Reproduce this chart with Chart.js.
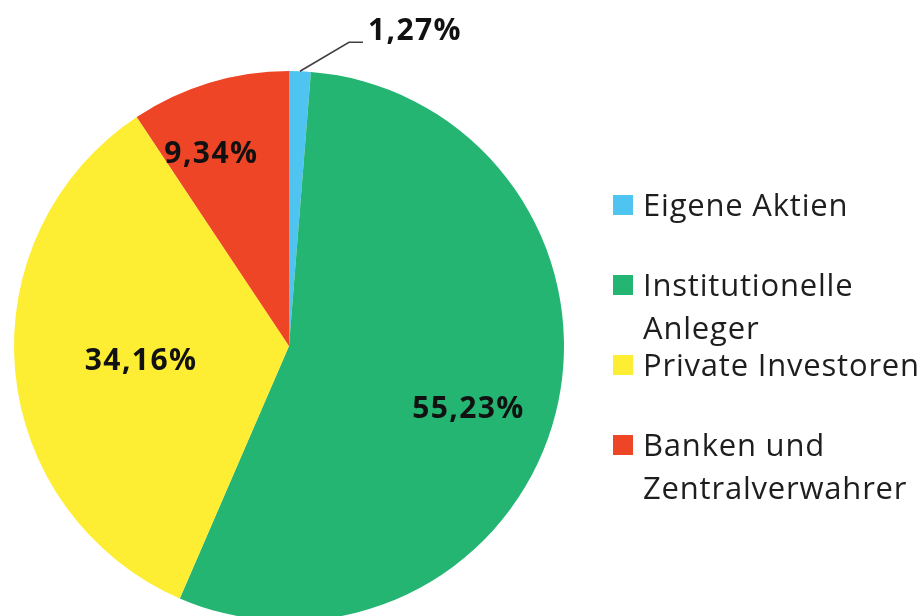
<!DOCTYPE html>
<html>
<head>
<meta charset="utf-8">
<script src="https://cdn.jsdelivr.net/npm/chart.js@4/dist/chart.umd.min.js"></script>
<style>
  html, body { margin: 0; padding: 0; background: #fff; overflow: hidden; width: 923px; height: 616px; }
  #wrap { position: absolute; left: 0; top: 0; width: 923px; height: 640px; }
  #legend { position: absolute; left: 613px; top: 0; width: 310px; font-family: "Open Sans", sans-serif; font-size: 31px; letter-spacing: 0.8px; color: #1e1e1e; }
  .item { position: absolute; left: 0; line-height: 43px; }
  .box { position: absolute; left: 0; top: 12px; width: 20px; height: 20px; }
  .txt { position: absolute; left: 30px; top: 0; white-space: nowrap; }
</style>
</head>
<body>
<div id="wrap"><canvas id="c"></canvas></div>
<div id="legend"></div>
<script>
// ---- data ----
const categories = ["Eigene Aktien", "Institutionelle Anleger", "Private Investoren", "Banken und Zentralverwahrer"];
const legendLines = [["Eigene Aktien"], ["Institutionelle", "Anleger"], ["Private Investoren"], ["Banken und", "Zentralverwahrer"]];
const shares = [1.27, 55.23, 34.16, 9.34];
const shareLabels = ["1,27%", "55,23%", "34,16%", "9,34%"];
const colors = ["#4fc4f0", "#24b573", "#fded33", "#ee4527"];

// label placement (fraction of radius; null = outside with leader) and angular nudge in degrees
const labelRadius = [null, 0.69, 0.54, 0.76];
const labelNudge = [0, 5, 0, -5];

const labelPlugin = {
  id: 'pctLabels',
  afterDatasetsDraw(chart) {
    const ctx = chart.ctx;
    const meta = chart.getDatasetMeta(0);
    ctx.save();
    const fs = 30;
    ctx.font = 'bold ' + fs + 'px "Open Sans", sans-serif';
    if ('letterSpacing' in ctx) ctx.letterSpacing = '1.4px';
    ctx.fillStyle = '#111';
    meta.data.forEach((arc, i) => {
      const p = arc.getProps(['x', 'y', 'startAngle', 'endAngle', 'outerRadius'], true);
      const mid = (p.startAngle + p.endAngle) / 2 + labelNudge[i] * Math.PI / 180;
      if (labelRadius[i] === null) {
        const ex = p.x + Math.cos(mid) * p.outerRadius;
        const ey = p.y + Math.sin(mid) * p.outerRadius;
        const kx = ex + 49, ky = ey - 29;
        ctx.strokeStyle = '#404040';
        ctx.lineWidth = 1.6;
        ctx.beginPath();
        ctx.moveTo(ex, ey);
        ctx.lineTo(kx, ky);
        ctx.lineTo(kx + 14, ky);
        ctx.stroke();
        ctx.textAlign = 'left';
        ctx.textBaseline = 'alphabetic';
        ctx.fillText(shareLabels[i], kx + 19, ky - 13 + 0.357 * fs);
      } else {
        const r = p.outerRadius * labelRadius[i];
        const cx = p.x + Math.cos(mid) * r;
        const cy = p.y + Math.sin(mid) * r;
        ctx.textAlign = 'center';
        ctx.textBaseline = 'alphabetic';
        ctx.fillText(shareLabels[i], cx, cy + 0.357 * fs);
      }
    });
    ctx.restore();
  }
};

new Chart(document.getElementById('c'), {
  type: 'pie',
  data: {
    labels: categories,
    datasets: [{ data: shares, backgroundColor: colors, borderWidth: 0, hoverOffset: 0 }]
  },
  options: {
    responsive: true,
    maintainAspectRatio: false,
    animation: false,
    layout: { padding: { left: 14, top: 71, right: 359, bottom: 19 } },
    plugins: { legend: { display: false }, tooltip: { enabled: false } },
    events: []
  },
  plugins: [labelPlugin]
});

// ---- HTML legend ----
const legend = document.getElementById('legend');
const firstCenter = 205, step = 80, capOffset = 22;
categories.forEach((name, i) => {
  const item = document.createElement('div');
  item.className = 'item';
  item.style.top = (firstCenter + i * step - capOffset) + 'px';
  const box = document.createElement('div');
  box.className = 'box';
  box.style.background = colors[i];
  const txt = document.createElement('div');
  txt.className = 'txt';
  txt.innerHTML = legendLines[i].join('<br>');
  item.appendChild(box);
  item.appendChild(txt);
  legend.appendChild(item);
});
</script>
</body>
</html>
